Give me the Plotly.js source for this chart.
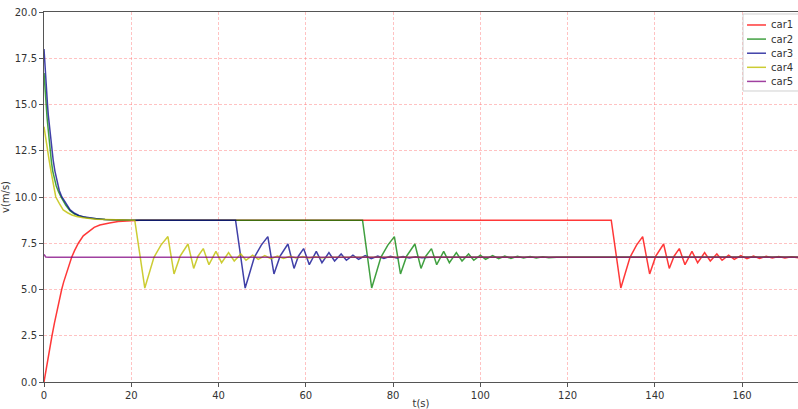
<!DOCTYPE html>
<html>
<head>
<meta charset="utf-8">
<script src="https://cdn.plot.ly/plotly-3.0.1.min.js"></script>
<style>html,body{margin:0;padding:0;background:#fff;}#chart{width:798px;height:409px;}</style>
</head>
<body>
<div id="chart"></div>
<script>
// ---- data ----
const names = ["car1", "car2", "car3", "car4", "car5"];

const t1 = [0, 0.5, 1, 1.4, 1.83, 2.4, 3, 3.5, 4.05, 4.5, 5, 5.6, 6.34, 7, 7.87, 9, 10.5, 11.5, 12.8, 14, 15, 17, 19.3, 22, 25,
  130.0, 132.2, 133.0, 134.3, 135.8, 137.2, 138.8, 140.2, 142.0, 143.3, 144.4, 145.6,
  146.9, 148.5, 149.8, 151.4, 152.7, 154.2, 155.4, 156.9, 158.2, 159.7, 161.1, 162.6,
  164.0, 165.5, 166.9, 168.4, 169.8, 171.3, 172.8];
const v1 = [0, 0.72, 1.4, 1.95, 2.5, 3.2, 3.9, 4.45, 5.0, 5.4, 5.8, 6.25, 6.74, 7.1, 7.5, 7.9, 8.2, 8.36, 8.49, 8.56, 8.6, 8.67, 8.71, 8.74, 8.75,
  8.75, 5.08, 5.7, 6.74, 7.4, 7.86, 5.84, 6.8, 7.46, 6.14, 6.8, 7.21,
  6.34, 7.06, 6.45, 6.99, 6.54, 6.92, 6.58, 6.86, 6.63, 6.83, 6.66, 6.81,
  6.68, 6.79, 6.70, 6.78, 6.71, 6.77, 6.72];

const t2 = [0, 0.2, 0.46, 0.7, 0.9, 1.15, 1.4, 1.7, 2, 2.4, 2.8, 3.3, 3.9, 5, 6, 7, 8, 10, 12, 14, 17, 20,
  73.0, 75.1, 75.9, 77.2, 78.8, 80.3, 81.7, 83.1, 85.0, 86.4, 87.5, 88.8,
  90.0, 91.6, 92.9, 94.5, 95.8, 97.3, 98.5, 100.0, 101.2, 102.8, 104.2, 105.6,
  107.0, 108.5, 109.9, 111.4, 112.8, 114.3, 115.7, 117.5, 172.8];
const v2 = [16.7, 15.8, 15.0, 14.3, 13.8, 13.1, 12.5, 11.9, 11.4, 10.95, 10.6, 10.3, 10.0, 9.55, 9.25, 9.08, 8.98, 8.86, 8.81, 8.78, 8.76, 8.75,
  8.75, 5.08, 5.7, 6.74, 7.4, 7.86, 5.84, 6.8, 7.46, 6.14, 6.8, 7.21,
  6.34, 7.06, 6.45, 6.99, 6.54, 6.92, 6.58, 6.86, 6.63, 6.83, 6.66, 6.81,
  6.68, 6.79, 6.70, 6.78, 6.71, 6.77, 6.72, 6.745, 6.745];

const t3 = [0, 0.2, 0.4, 0.6, 0.8, 1.0, 1.2, 1.5, 1.8, 2.1, 2.5, 3.0, 3.5, 4.1, 5, 6, 7, 8, 9, 10, 12, 14, 17, 20,
  43.9, 46.1, 46.9, 48.2, 49.8, 51.3, 52.7, 54.1, 55.9, 57.3, 58.3, 59.5,
  60.8, 62.4, 63.7, 65.3, 66.6, 68.1, 69.3, 70.8, 72.1, 73.6, 75.0, 76.5,
  77.9, 79.4, 80.8, 82.3, 83.7, 85.2, 86.6, 88.5, 172.8];
const v3 = [18.0, 17.1, 16.3, 15.6, 15.0, 14.4, 13.9, 13.2, 12.5, 12.0, 11.4, 10.8, 10.35, 10.0, 9.65, 9.3, 9.12, 9.0, 8.93, 8.88, 8.82, 8.79, 8.76, 8.75,
  8.75, 5.08, 5.7, 6.74, 7.4, 7.86, 5.84, 6.8, 7.46, 6.14, 6.8, 7.21,
  6.34, 7.06, 6.45, 6.99, 6.54, 6.92, 6.58, 6.86, 6.63, 6.83, 6.66, 6.81,
  6.68, 6.79, 6.70, 6.78, 6.71, 6.77, 6.72, 6.745, 6.745];

const t4 = [0, 0.4, 0.8, 1.2, 1.6, 2.1, 2.7, 3.5, 4.4, 5.4, 6.4, 7.5, 9, 12, 16, 20.8,
  23.1, 23.9, 25.2, 26.8, 28.4, 29.8, 31.2, 33.0, 34.3, 35.3, 36.5,
  37.8, 39.4, 40.7, 42.3, 43.6, 45.1, 46.3, 47.8, 49.1, 50.6, 52.0, 53.5,
  54.9, 56.4, 57.8, 59.3, 60.7, 62.2, 63.6, 65.5, 172.8];
const v4 = [13.8, 13.1, 12.5, 11.95, 11.4, 10.75, 10.0, 9.65, 9.3, 9.15, 9.03, 8.95, 8.88, 8.8, 8.77, 8.75,
  5.08, 5.7, 6.74, 7.4, 7.86, 5.84, 6.8, 7.46, 6.14, 6.8, 7.21,
  6.34, 7.06, 6.45, 6.99, 6.54, 6.92, 6.58, 6.86, 6.63, 6.83, 6.66, 6.81,
  6.68, 6.79, 6.70, 6.78, 6.71, 6.77, 6.72, 6.745, 6.745];

const t5 = [0, 0.4, 1, 172.8];
const v5 = [6.9, 6.76, 6.745, 6.745];

const xTicks = [0, 20, 40, 60, 80, 100, 120, 140, 160];
const yTicks = [0, 2.5, 5, 7.5, 10, 12.5, 15, 17.5, 20];

// ---- styles ----
const colors = ["rgba(255,0,0,0.78)", "rgba(0,128,0,0.75)", "rgba(0,0,139,0.75)", "rgba(191,191,0,0.8)", "rgba(128,0,128,0.75)"];
const ts = [t1, t2, t3, t4, t5];
const vs = [v1, v2, v3, v4, v5];

const traces = names.map((n, i) => ({
  type: "scatter", mode: "lines", name: n, showlegend: false,
  x: ts[i], y: vs[i],
  line: {color: colors[i], width: 1.5, shape: "linear"}
}));

const font = {family: "DejaVu Sans, sans-serif", size: 10, color: "#333"};

// legend box drawn in paper coordinates (matplotlib-style)
const legX0 = 0.9271, legX1 = 1.02, legY0 = 0.7865, legY1 = 0.9946;
const rowY = [0.9649, 0.9268, 0.8886, 0.8505, 0.8124];
const shapes = [{
  type: "rect", xref: "paper", yref: "paper",
  x0: legX0, x1: legX1, y0: legY0, y1: legY1,
  fillcolor: "rgba(255,255,255,0.9)", line: {color: "#d0d0d0", width: 1}, layer: "above"
}];
const annotations = [];
names.forEach((n, i) => {
  shapes.push({type: "line", xref: "paper", yref: "paper", x0: 0.9324, x1: 0.9576, y0: rowY[i], y1: rowY[i],
    line: {color: colors[i], width: 1.5}, layer: "above"});
  annotations.push({xref: "paper", yref: "paper", x: 0.9635, y: rowY[i], xanchor: "left", yanchor: "middle",
    text: n, showarrow: false, font: font, borderpad: 0});
});

const layout = {
  width: 798, height: 409,
  margin: {l: 44, r: 0, t: 12, b: 27, autoexpand: false},
  paper_bgcolor: "#fff", plot_bgcolor: "#fff",
  font: font,
  showlegend: false,
  shapes: shapes,
  annotations: annotations,
  xaxis: {
    range: [0, 172.8], tickvals: xTicks, ticktext: xTicks.map(String),
    showgrid: true, gridcolor: "rgba(255,120,120,0.45)", griddash: "3px,2px", gridwidth: 1,
    zeroline: false, showline: true, linecolor: "#555", linewidth: 1, mirror: true,
    ticks: "outside", ticklen: 4, tickcolor: "#555", tickfont: font,
    title: {text: "t(s)", font: font, standoff: 4}
  },
  yaxis: {
    range: [0, 20], tickvals: yTicks, ticktext: yTicks.map(v => v.toFixed(1)),
    showgrid: true, gridcolor: "rgba(255,120,120,0.45)", griddash: "3px,2px", gridwidth: 1,
    zeroline: false, showline: true, linecolor: "#555", linewidth: 1, mirror: true,
    ticks: "outside", ticklen: 4, tickcolor: "#555", tickfont: font,
    title: {text: "v(m/s)", font: font, standoff: 9}
  }
};

Plotly.newPlot("chart", traces, layout, {staticPlot: true, displayModeBar: false});
</script>
</body>
</html>
